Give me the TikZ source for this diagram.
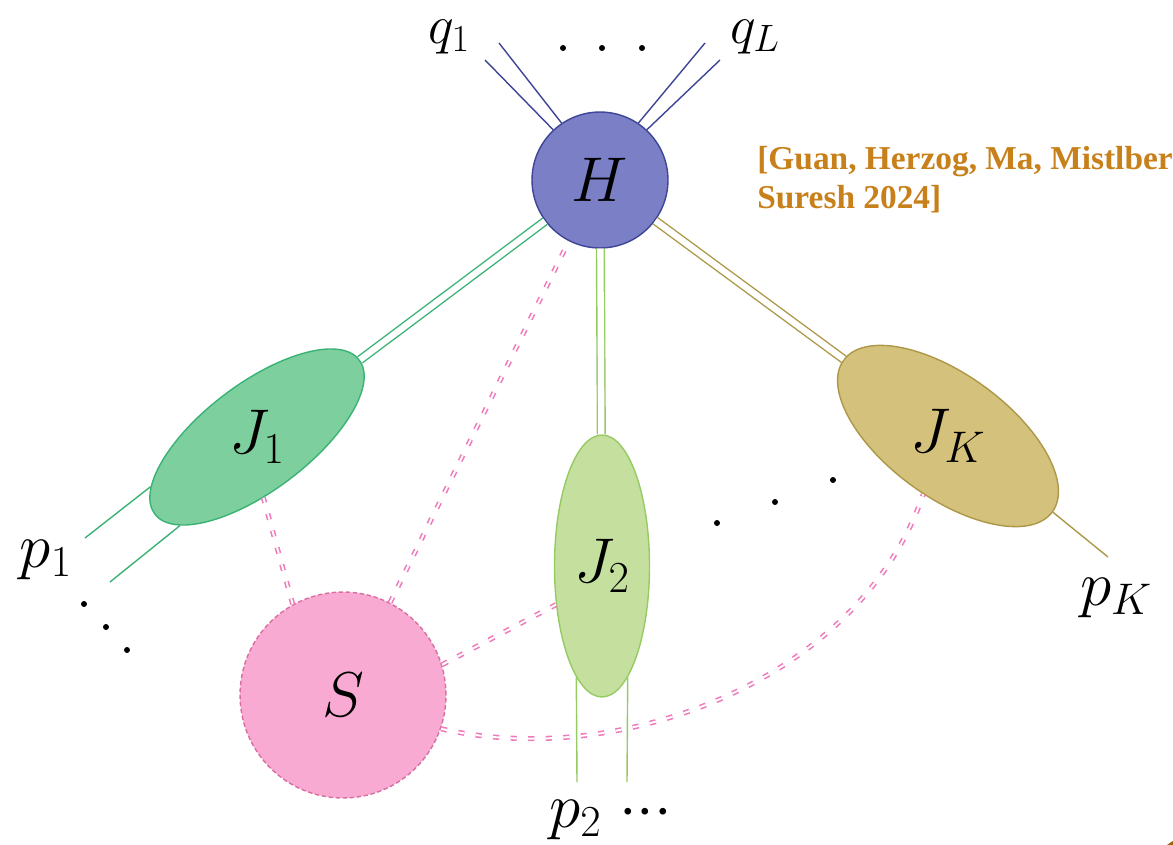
\RequirePackage{fix-cm}
\documentclass[tikz,border=0pt]{standalone}
\usepackage{fontspec}
\newfontfamily\citefont{Liberation Serif}
\usetikzlibrary{shapes.geometric}

\definecolor{hardfill}{RGB}{123,128,198}
\definecolor{hardedge}{RGB}{62,68,150}
\definecolor{jetonefill}{RGB}{126,207,158}
\definecolor{jetoneedge}{RGB}{58,178,118}
\definecolor{jettwofill}{RGB}{197,224,158}
\definecolor{jettwoedge}{RGB}{150,202,98}
\definecolor{jetKfill}{RGB}{212,193,123}
\definecolor{jetKedge}{RGB}{172,152,72}
\definecolor{softfill}{RGB}{248,170,210}
\definecolor{softedge}{RGB}{218,110,160}
\definecolor{softline}{RGB}{238,122,186}
\definecolor{citecolor}{RGB}{200,128,26}
\definecolor{cornerbrown}{RGB}{160,98,16}

\begin{document}
\begin{tikzpicture}[
  x=0.02cm, y=-0.02cm,
  every node/.style={font=\fontsize{36}{43}\selectfont, inner sep=0pt},
  blob/.style={line width=0.8pt},
  hardblob/.style={blob, circle, draw=hardedge, fill=hardfill, minimum size=2.72cm},
  softblob/.style={blob, circle, draw=softedge, fill=softfill, minimum size=4.12cm,
    dash pattern=on 2.5pt off 1.5pt},
  jetblob/.style={blob, ellipse, minimum width=#1},
  link/.style={line width=0.8pt, double=white, double distance=3.6pt},
  leg/.style={line width=0.8pt},
  softlink/.style={draw=softline, line width=0.9pt, double=white, double distance=1.1pt,
    dash pattern=on 3.5pt off 6.5pt},
  small/.style={font=\fontsize{31}{37}\selectfont},
  cite/.style={font=\citefont\bfseries\fontsize{19}{23}\selectfont, text=citecolor, anchor=base west}
]
\useasboundingbox (0,0) rectangle (1173,845);
\clip (0,0) rectangle (1173,845);

\node[hardblob] (H) at (600,180) {$H$};
\node[softblob] (S) at (343,695) {$S$};
\node[jetblob=5.12cm, minimum height=1.84cm, rotate=37, draw=jetoneedge, fill=jetonefill] (J1) at (257,437) {\rotatebox{-37}{$J_1$}};
\node[jetblob=1.9cm, minimum height=5.24cm, draw=jettwoedge, fill=jettwofill] (J2) at (602,566) {$J_2$};
\node[jetblob=5.16cm, minimum height=1.9cm, rotate=-36, draw=jetKedge, fill=jetKfill] (JK) at (948,436) {\rotatebox{36}{$J_K$}};

\coordinate (q1a) at (485,60);
\coordinate (q1b) at (499,43);
\coordinate (qLa) at (705,43);
\coordinate (qLb) at (720,60);
\coordinate (p1a) at (85,538);
\coordinate (p1b) at (110,582);
\coordinate (p2a) at (577,782);
\coordinate (p2b) at (627,782);
\coordinate (pKa) at (1108,557);

\node[small] (q1) at (449,37) {$q_1$};
\node[small] (qL) at (755,37) {$q_L$};
\node (p1) at (46,560) {$p_1$};
\node[anchor=base west] (p2) at (549,827) {$p_2\;{\cdotp}{\cdotp}{\cdotp}$};
\node (pK) at (1116,598) {$p_K$};

\node[cite] (cite1) at (757,169) {[Guan, Herzog, Ma, Mistlberger,};
\node[cite] (cite2) at (757,208) {Suresh 2024]};

\draw[leg, hardedge] (H.133) -- (q1a);
\draw[leg, hardedge] (H.124) -- (q1b);
\draw[leg, hardedge] (H.56) -- (qLa);
\draw[leg, hardedge] (H.47) -- (qLb);

\draw[link, jetoneedge] (H) -- (J1);
\draw[link, jettwoedge] (H) -- (J2);
\draw[link, jetKedge] (H) -- (JK);

\draw[leg, jetoneedge] (J1.168) -- (p1a);
\draw[leg, jetoneedge] (J1.192) -- (p1b);
\draw[leg, jettwoedge] (J2.257) -- (p2a);
\draw[leg, jettwoedge] (J2.283) -- (p2b);
\draw[leg, jetKedge] (JK.east) -- (pKa);

\draw[softlink] (S.119) -- (J1.-121);
\draw[softlink] (S.63) -- (H.243);
\draw[softlink] (S.17) -- (J2.220);
\draw[softlink] (S.-19) .. controls (620,770) and (860,680) .. (JK.-77);

\foreach \x/\y in {563/48, 602/48, 642/48, 84/604, 106/627, 127/650, 717/523, 775/502, 833/480}
  \fill (\x,\y) circle[radius=0.06cm];

\fill[cornerbrown] (1212,905) circle[radius=1.5cm];
\end{tikzpicture}
\end{document}
